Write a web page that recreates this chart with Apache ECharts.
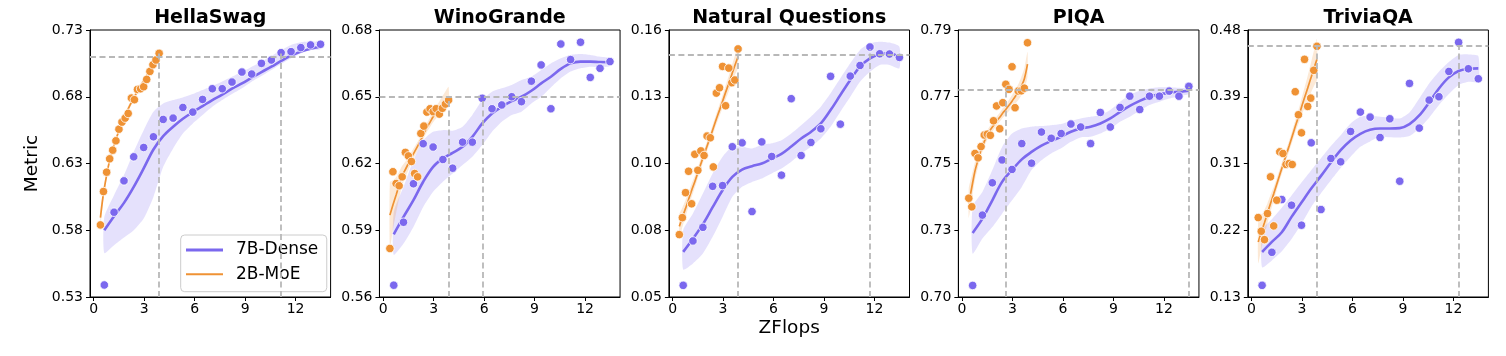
<!DOCTYPE html>
<html><head><meta charset="utf-8">
<script src="https://cdn.jsdelivr.net/npm/echarts@6/dist/echarts.min.js"></script>
<style>html,body{margin:0;padding:0;background:#fff}#c{width:1506px;height:356px}</style>
</head><body><div id="c"></div>
<script>
// ---------- data ----------
const panelTitles = ['HellaSwag', 'WinoGrande', 'Natural Questions', 'PIQA', 'TriviaQA'];
const xTicks = [0, 3, 6, 9, 12];
const yMins = [0.53, 0.56, 0.05, 0.70, 0.13];
const yMaxs = [0.73, 0.68, 0.16, 0.79, 0.48];
const yTickLabels = [
  ['0.53', '0.58', '0.63', '0.68', '0.73'],
  ['0.56', '0.59', '0.62', '0.65', '0.68'],
  ['0.05', '0.08', '0.10', '0.13', '0.16'],
  ['0.70', '0.73', '0.75', '0.77', '0.79'],
  ['0.13', '0.22', '0.31', '0.39', '0.48']
];
const refLevels = [0.7125, 0.6488, 0.1522, 0.7709, 0.459];
const moeReachX = [3.89, 3.89, 3.89, 2.60, 3.89];
const denseReachX = [11.14, 5.89, 11.73, 13.48, 12.31];

const denseX = [0.63,1.21,1.80,2.38,2.97,3.55,4.13,4.72,5.30,5.89,6.47,7.05,7.64,8.22,8.81,9.39,9.97,10.56,11.14,11.73,12.31,12.89,13.48];
const moeX = [0.40,0.58,0.77,0.95,1.13,1.32,1.50,1.68,1.87,2.05,2.24,2.42,2.60,2.79,2.97,3.15,3.34,3.52,3.70,3.89];

const hellaDenseY   = [0.539,0.5935,0.617,0.635,0.642,0.650,0.663,0.664,0.672,0.6685,0.678,0.686,0.686,0.691,0.6985,0.697,0.705,0.7075,0.713,0.7138,0.7168,0.7188,0.7193];
const hellaDenseFit = [0.580,0.5905,0.6005,0.6125,0.6263,0.6405,0.6505,0.6575,0.6635,0.6685,0.673,0.6775,0.6815,0.686,0.690,0.6943,0.6985,0.7025,0.7068,0.7108,0.7138,0.716,0.7175];
const hellaDenseLo  = [0.563,0.5688,0.5745,0.58,0.5888,0.605,0.6275,0.6413,0.6525,0.66,0.6663,0.6725,0.6775,0.682,0.6863,0.6913,0.6955,0.70,0.7045,0.7088,0.7125,0.715,0.7155];
const hellaDenseHi  = [0.59,0.6063,0.6213,0.6388,0.655,0.6688,0.675,0.6775,0.6795,0.682,0.685,0.688,0.6915,0.695,0.6985,0.7025,0.7063,0.7105,0.715,0.7188,0.7208,0.7213,0.7205];
const hellaMoeY     = [0.584,0.609,0.6235,0.6335,0.640,0.647,0.6557,0.661,0.664,0.6675,0.679,0.6778,0.6855,0.686,0.6875,0.693,0.699,0.704,0.7075,0.7125];
const hellaMoeFit   = [0.5895,0.6075,0.6213,0.6325,0.6408,0.648,0.6545,0.6605,0.666,0.671,0.6758,0.68,0.684,0.688,0.6918,0.6955,0.6993,0.703,0.7068,0.711];
const hellaMoeHw    = [0.006,0.004,0.003,0.0025,0.002,0.002,0.002,0.002,0.002,0.002,0.002,0.002,0.002,0.002,0.002,0.0022,0.0025,0.003,0.0035,0.004];

const winoDenseY   = [0.5653,0.5936,0.6109,0.6289,0.6274,0.6218,0.6179,0.6296,0.6296,0.6493,0.6446,0.6463,0.65,0.6478,0.657,0.6643,0.6446,0.6737,0.6667,0.6745,0.6587,0.6628,0.6658];
const winoDenseFit = [0.5882,0.596,0.6035,0.6118,0.6185,0.6223,0.6248,0.6275,0.632,0.638,0.6425,0.6455,0.648,0.650,0.6527,0.656,0.659,0.6625,0.665,0.6658,0.6658,0.6656,0.6655];
const winoDenseLo  = [0.579,0.584,0.5915,0.6005,0.6073,0.6118,0.6155,0.6193,0.623,0.6283,0.6343,0.6388,0.6418,0.6433,0.647,0.65,0.6542,0.6583,0.6613,0.6628,0.6635,0.6632,0.6638];
const winoDenseHi  = [0.598,0.6095,0.6215,0.6305,0.6343,0.635,0.6347,0.6365,0.6418,0.6485,0.6523,0.6538,0.6553,0.6575,0.659,0.662,0.665,0.6673,0.6688,0.6692,0.6688,0.668,0.6673];
const winoMoeY     = [0.5818,0.6163,0.611,0.610,0.614,0.625,0.6234,0.6209,0.6155,0.614,0.6335,0.6368,0.6431,0.6446,0.6433,0.6446,0.6422,0.6448,0.6467,0.6485];
const winoMoeFit   = [0.5968,0.6013,0.6058,0.6103,0.6145,0.6173,0.62,0.6227,0.6253,0.6278,0.6305,0.6335,0.6362,0.6386,0.641,0.643,0.6449,0.6467,0.6484,0.65];
const winoMoeHw    = [0.015,0.011,0.008,0.006,0.0045,0.0035,0.003,0.0025,0.0022,0.002,0.002,0.002,0.002,0.0022,0.0025,0.0028,0.003,0.0035,0.004,0.0045];

const nqDenseY   = [0.0548,0.0731,0.0787,0.0956,0.0959,0.1119,0.1135,0.0852,0.1139,0.1079,0.1002,0.1317,0.1083,0.1137,0.1193,0.1409,0.1212,0.141,0.1454,0.153,0.1502,0.1501,0.1487];
const nqDenseFit = [0.0686,0.074,0.080,0.087,0.094,0.0995,0.1025,0.1039,0.105,0.107,0.109,0.112,0.1153,0.118,0.1215,0.127,0.1332,0.1394,0.1449,0.1483,0.150,0.1504,0.1487];
const nqDenseLo  = [0.0613,0.0638,0.0679,0.0748,0.083,0.0913,0.0954,0.0974,0.0988,0.1009,0.1029,0.1057,0.1091,0.1119,0.1153,0.1201,0.1263,0.1325,0.1387,0.1428,0.1456,0.1456,0.1442];
const nqDenseHi  = [0.0775,0.0844,0.0926,0.1009,0.1078,0.1119,0.1119,0.1112,0.1126,0.1133,0.1146,0.1174,0.1208,0.1243,0.1284,0.1339,0.1401,0.1463,0.1518,0.1545,0.1552,0.1548,0.1531];
const nqMoeY     = [0.0757,0.0827,0.093,0.1018,0.0884,0.1088,0.1022,0.1102,0.1083,0.1163,0.1156,0.1036,0.134,0.1362,0.145,0.1288,0.1443,0.1383,0.1394,0.1522];
const nqMoeFit   = [0.0791,0.0828,0.0865,0.0902,0.0939,0.0975,0.1012,0.1049,0.1086,0.1122,0.1159,0.1196,0.1233,0.127,0.1306,0.1343,0.138,0.1417,0.1454,0.149];
const nqMoeHw    = [0.005,0.004,0.0035,0.003,0.0028,0.0025,0.0023,0.0022,0.0021,0.002,0.002,0.0021,0.0022,0.0024,0.0026,0.0029,0.0032,0.0036,0.004,0.0045];

const piqaDenseY   = [0.7039,0.7276,0.7385,0.7462,0.743,0.7517,0.7451,0.7556,0.7535,0.7551,0.7583,0.7573,0.7517,0.7622,0.7573,0.7639,0.7677,0.7632,0.7677,0.7677,0.7694,0.7677,0.771];
const piqaDenseFit = [0.7216,0.7264,0.7326,0.7388,0.7428,0.7464,0.7489,0.751,0.7526,0.754,0.7557,0.7568,0.7574,0.7585,0.7602,0.7624,0.7644,0.7661,0.7675,0.7683,0.7689,0.7692,0.7695];
const piqaDenseLo  = [0.7146,0.7197,0.7236,0.7281,0.7326,0.7371,0.7428,0.7461,0.7484,0.7501,0.7523,0.7538,0.754,0.7551,0.7568,0.7591,0.7608,0.7628,0.7647,0.7658,0.7669,0.7677,0.7684];
const piqaDenseHi  = [0.7305,0.7354,0.7428,0.7506,0.7551,0.7568,0.7574,0.7576,0.7579,0.7583,0.7594,0.7602,0.7608,0.7613,0.763,0.7658,0.7681,0.7695,0.7703,0.7707,0.7707,0.7705,0.7703];
const piqaMoeY     = [0.7333,0.7304,0.7484,0.7469,0.7507,0.7546,0.7549,0.7545,0.7594,0.7644,0.7567,0.7655,0.7717,0.77,0.7776,0.7638,0.7694,0.7695,0.7704,0.7857];
const piqaMoeFit   = [0.7316,0.737,0.7425,0.7462,0.7496,0.7524,0.7546,0.7563,0.7578,0.7593,0.7606,0.762,0.7632,0.7646,0.766,0.7675,0.769,0.771,0.7735,0.7785];
const piqaMoeHw    = [0.005,0.004,0.003,0.0025,0.002,0.0018,0.0016,0.0015,0.0015,0.0015,0.0015,0.0016,0.0017,0.0019,0.0021,0.0024,0.0027,0.0031,0.0036,0.0042];

const triviaDenseY   = [0.1453,0.1886,0.2577,0.2503,0.2241,0.3321,0.2446,0.3116,0.3072,0.347,0.3724,0.3658,0.3391,0.3636,0.2818,0.41,0.3514,0.3881,0.3925,0.4257,0.4638,0.4292,0.4161];
const triviaDenseFit = [0.189,0.2022,0.2149,0.235,0.2538,0.2722,0.2888,0.3063,0.3225,0.3352,0.3439,0.3492,0.3509,0.3509,0.3514,0.3566,0.368,0.3851,0.4034,0.4179,0.4262,0.4293,0.4297];
const triviaDenseLo  = [0.169,0.178,0.19,0.206,0.226,0.2481,0.266,0.283,0.299,0.3138,0.3269,0.334,0.34,0.3395,0.3391,0.341,0.3509,0.365,0.3816,0.396,0.4078,0.412,0.4122];
const triviaDenseHi  = [0.2175,0.232,0.247,0.263,0.28,0.2963,0.312,0.328,0.342,0.3575,0.3663,0.3675,0.3663,0.365,0.364,0.372,0.3903,0.41,0.4253,0.438,0.4472,0.448,0.4459];
const triviaMoeY     = [0.2341,0.2162,0.2052,0.2394,0.2875,0.2232,0.2569,0.3203,0.3181,0.3037,0.305,0.3037,0.3991,0.3689,0.3452,0.4415,0.3798,0.3907,0.4271,0.4586];
const triviaMoeFit   = [0.2022,0.2148,0.2274,0.24,0.2526,0.2652,0.2778,0.2904,0.303,0.3156,0.3282,0.3408,0.3534,0.366,0.3786,0.3912,0.4038,0.4164,0.429,0.4415];
const triviaMoeHw    = [0.028,0.022,0.017,0.013,0.011,0.009,0.008,0.0075,0.007,0.007,0.007,0.0075,0.008,0.009,0.011,0.013,0.016,0.019,0.023,0.027];

// ---------- assemble ----------
const panels = [
  {dY: hellaDenseY, dF: hellaDenseFit, dLo: hellaDenseLo, dHi: hellaDenseHi, mY: hellaMoeY, mF: hellaMoeFit, mHw: hellaMoeHw},
  {dY: winoDenseY, dF: winoDenseFit, dLo: winoDenseLo, dHi: winoDenseHi, mY: winoMoeY, mF: winoMoeFit, mHw: winoMoeHw},
  {dY: nqDenseY, dF: nqDenseFit, dLo: nqDenseLo, dHi: nqDenseHi, mY: nqMoeY, mF: nqMoeFit, mHw: nqMoeHw},
  {dY: piqaDenseY, dF: piqaDenseFit, dLo: piqaDenseLo, dHi: piqaDenseHi, mY: piqaMoeY, mF: piqaMoeFit, mHw: piqaMoeHw},
  {dY: triviaDenseY, dF: triviaDenseFit, dLo: triviaDenseLo, dHi: triviaDenseHi, mY: triviaMoeY, mF: triviaMoeFit, mHw: triviaMoeHw}
];

const DENSE = '#7B68EE', MOE = '#EF9234';
const DENSE_BAND = 'rgba(123,104,238,0.2)', MOE_BAND = 'rgba(239,146,52,0.2)';
const FONT = 'DejaVu Sans';
const X_MIN = -0.22, X_MAX = 14.08;
const G_LEFT0 = 90, G_STEP = 289.45, G_W = 240.6, G_TOP = 30, G_H = 267;

const grids = [], xAxes = [], yAxes = [], series = [], graphics = [];

function bandSeries(gi, xs, lo, hi, color) {
  return {
    type: 'custom', xAxisIndex: gi, yAxisIndex: gi, silent: true, z: 1,
    data: [[xs[0], lo[0]]],
    renderItem: function (params, api) {
      const pts = [];
      for (let i = 0; i < xs.length; i++) pts.push(api.coord([xs[i], hi[i]]));
      for (let i = xs.length - 1; i >= 0; i--) pts.push(api.coord([xs[i], lo[i]]));
      return {type: 'polygon', shape: {points: pts, smooth: 0.2}, style: {fill: color}};
    }
  };
}

panels.forEach((p, gi) => {
  const left = G_LEFT0 + G_STEP * gi;
  grids.push({left: left, top: G_TOP, width: G_W, height: G_H, show: true, borderColor: '#000', borderWidth: 1,
              backgroundColor: 'transparent', containLabel: false, outerBoundsMode: 'none'});
  xAxes.push({
    type: 'value', gridIndex: gi, min: X_MIN, max: X_MAX,
    axisLine: {show: true, onZero: false, lineStyle: {color: '#000', width: 1}},
    axisTick: {show: true, length: 4, customValues: xTicks, lineStyle: {color: '#000', width: 1}},
    axisLabel: {customValues: xTicks, fontSize: 14, fontFamily: FONT, color: '#000', margin: 5},
    splitLine: {show: false}
  });
  const yPos = yTickLabels[gi].map((_, k) => yMins[gi] + (yMaxs[gi] - yMins[gi]) * k / 4);
  yAxes.push({
    type: 'value', gridIndex: gi, min: yMins[gi], max: yMaxs[gi],
    axisLine: {show: true, onZero: false, lineStyle: {color: '#000', width: 1}},
    axisTick: {show: true, length: 4, customValues: yPos, lineStyle: {color: '#000', width: 1}},
    axisLabel: {
      customValues: yPos, fontSize: 14, fontFamily: FONT, color: '#000', margin: 7,
      formatter: function (v) {
        let best = 0;
        yPos.forEach((q, k) => { if (Math.abs(q - v) < Math.abs(yPos[best] - v)) best = k; });
        return yTickLabels[gi][best];
      }
    },
    splitLine: {show: false}
  });

  // confidence bands
  series.push(bandSeries(gi, denseX, p.dLo, p.dHi, DENSE_BAND));
  series.push(bandSeries(gi, moeX, p.mF.map((v, i) => v - p.mHw[i]), p.mF.map((v, i) => v + p.mHw[i]), MOE_BAND));

  // reference dashed lines
  const dash = {color: '#b8b8b8', type: [6, 3.5], width: 1.8};
  series.push({
    type: 'line', name: 'guides' + gi, xAxisIndex: gi, yAxisIndex: gi, data: [], silent: true, z: 2,
    markLine: {
      silent: true, symbol: ['none', 'none'], label: {show: false}, lineStyle: dash, animation: false,
      emphasis: {disabled: true},
      data: [
        {yAxis: refLevels[gi]},
        [{coord: [moeReachX[gi], yMins[gi]]}, {coord: [moeReachX[gi], refLevels[gi]]}],
        [{coord: [denseReachX[gi], yMins[gi]]}, {coord: [denseReachX[gi], refLevels[gi]]}]
      ]
    }
  });

  // fitted curves
  series.push({
    type: 'line', name: '7B-Dense', xAxisIndex: gi, yAxisIndex: gi, z: 3, silent: true,
    data: denseX.map((x, i) => [x, p.dF[i]]), smooth: 0.35, showSymbol: false,
    itemStyle: {color: DENSE, borderWidth: 0}, lineStyle: {color: DENSE, width: 2.6}
  });
  series.push({
    type: 'line', name: '2B-MoE', xAxisIndex: gi, yAxisIndex: gi, z: 3, silent: true,
    data: moeX.map((x, i) => [x, p.mF[i]]), smooth: 0.35, showSymbol: false,
    itemStyle: {color: MOE, borderWidth: 0}, lineStyle: {color: MOE, width: 1.7}
  });

  // observed points
  series.push({
    type: 'scatter', name: 'dense-pts' + gi, xAxisIndex: gi, yAxisIndex: gi, z: 4, silent: true,
    data: denseX.map((x, i) => [x, p.dY[i]]), symbolSize: 8.5,
    itemStyle: {color: DENSE, borderColor: '#fff', borderWidth: 0.8, opacity: 1}
  });
  series.push({
    type: 'scatter', name: 'moe-pts' + gi, xAxisIndex: gi, yAxisIndex: gi, z: 4, silent: true,
    data: moeX.map((x, i) => [x, p.mY[i]]), symbolSize: 8.5,
    itemStyle: {color: MOE, borderColor: '#fff', borderWidth: 0.8, opacity: 1}
  });

  graphics.push({
    type: 'text', x: left + G_W / 2, y: 18.3, silent: true,
    style: {text: panelTitles[gi], font: 'bold 19px "' + FONT + '"', fill: '#000', align: 'center', verticalAlign: 'middle'}
  });
});

graphics.push({
  type: 'text', x: 32.5, y: G_TOP + G_H / 2, rotation: Math.PI / 2, silent: true,
  style: {text: 'Metric', font: '18.5px "' + FONT + '"', fill: '#000', align: 'center', verticalAlign: 'middle'}
});
graphics.push({
  type: 'text', x: G_LEFT0 + G_STEP * 2 + G_W / 2, y: 328.5, silent: true,
  style: {text: 'ZFlops', font: '18.5px "' + FONT + '"', fill: '#000', align: 'center', verticalAlign: 'middle'}
});

const denseIcon = 'path://M0,0M45,4M0,0.5L37,0.5L37,3.5L0,3.5Z';
const moeIcon = 'path://M0,0M45,4M0,1L37,1L37,3L0,3Z';

const chart = echarts.init(document.getElementById('c'), null, {renderer: 'canvas'});
chart.setOption({
  animation: false,
  backgroundColor: '#fff',
  grid: grids, xAxis: xAxes, yAxis: yAxes, series: series,
  legend: {
    left: 180.7, top: 235, orient: 'vertical', selectedMode: false,
    itemWidth: 45, itemHeight: 4, itemGap: 7.3,
    padding: [6.5, 8.5, 8.9, 5.3],
    backgroundColor: 'rgba(255,255,255,0.8)', borderColor: '#cccccc', borderWidth: 1, borderRadius: 4,
    textStyle: {fontSize: 17, fontFamily: FONT, color: '#000'},
    itemStyle: {borderWidth: 0},
    data: [{name: '7B-Dense', icon: denseIcon}, {name: '2B-MoE', icon: moeIcon}]
  },
  graphic: graphics
});
</script></body></html>
